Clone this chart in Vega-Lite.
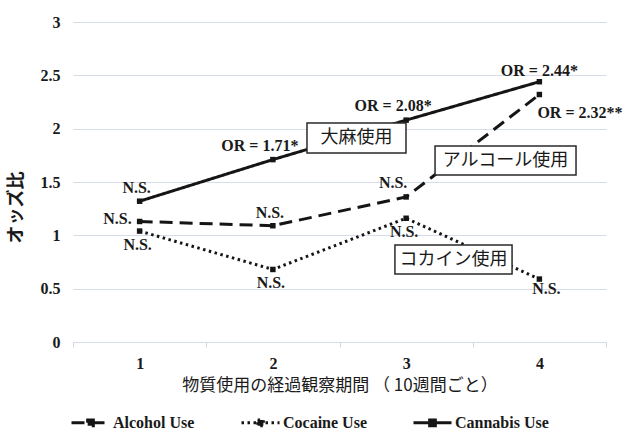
{
  "$schema": "https://vega.github.io/schema/vega-lite/v6.json",
  "width": 533,
  "height": 320,
  "autosize": {"type": "none"},
  "padding": {"left": 73, "top": 22, "right": 22, "bottom": 90},
  "background": "white",
  "config": {
    "view": {"stroke": null},
    "axis": {"labelColor": "#1a1a1a", "titleColor": "#1a1a1a"}
  },
  "datasets": {
    "odds": [
      {"period": 1, "series": "Alcohol Use", "or": 1.13, "label": "N.S."},
      {"period": 2, "series": "Alcohol Use", "or": 1.09, "label": "N.S."},
      {"period": 3, "series": "Alcohol Use", "or": 1.36, "label": "N.S."},
      {"period": 4, "series": "Alcohol Use", "or": 2.32, "label": "OR = 2.32**"},
      {"period": 1, "series": "Cocaine Use", "or": 1.04, "label": "N.S."},
      {"period": 2, "series": "Cocaine Use", "or": 0.68, "label": "N.S."},
      {"period": 3, "series": "Cocaine Use", "or": 1.16, "label": "N.S."},
      {"period": 4, "series": "Cocaine Use", "or": 0.59, "label": "N.S."},
      {"period": 1, "series": "Cannabis Use", "or": 1.32, "label": "N.S."},
      {"period": 2, "series": "Cannabis Use", "or": 1.71, "label": "OR = 1.71*"},
      {"period": 3, "series": "Cannabis Use", "or": 2.08, "label": "OR = 2.08*"},
      {"period": 4, "series": "Cannabis Use", "or": 2.44, "label": "OR = 2.44*"}
    ],
    "tags": [
      {"name": "大麻使用"},
      {"name": "アルコール使用"},
      {"name": "コカイン使用"}
    ]
  },
  "layer": [
    {
      "data": {"name": "odds"},
      "encoding": {
        "x": {
          "field": "period",
          "type": "quantitative",
          "scale": {"domain": [0.5, 4.5], "nice": false, "zero": false},
          "axis": {
            "title": "物質使用の経過観察期間 （ 10週間ごと）",
            "titleFont": "Noto Sans CJK JP",
            "titleFontSize": 17,
            "titleFontWeight": "normal",
            "titlePadding": 6,
            "values": [0.5, 1, 1.5, 2, 2.5, 3, 3.5, 4, 4.5],
            "labelExpr": "datum.value % 1 === 0 ? format(datum.value, 'd') : ''",
            "labelFont": "Liberation Serif",
            "labelFontWeight": "bold",
            "labelFontSize": 16,
            "labelPadding": 8,
            "labelOverlap": false,
            "labelFlush": false,
            "domain": false,
            "grid": false,
            "ticks": true,
            "tickSize": 5,
            "tickColor": "#cfd5e2",
            "tickOpacity": {"condition": {"test": "datum.value % 1 === 0", "value": 0}, "value": 1}
          }
        },
        "y": {
          "field": "or",
          "type": "quantitative",
          "scale": {"domain": [0, 3], "nice": false},
          "axis": {
            "title": "オッズ比",
            "titleFont": "Noto Sans CJK JP",
            "titleFontSize": 18,
            "titleFontWeight": "bold",
            "titlePadding": 15,
            "titleY": 185,
            "values": [0, 0.5, 1, 1.5, 2, 2.5, 3],
            "format": ".1~f",
            "labelFont": "Liberation Serif",
            "labelFontWeight": "bold",
            "labelFontSize": 16,
            "labelPadding": 13,
            "domain": false,
            "ticks": false,
            "grid": true,
            "gridColor": "#d6dce8",
            "gridWidth": 1
          }
        }
      },
      "layer": [
        {
          "mark": {"type": "line", "color": "#151515", "strokeWidth": 3},
          "encoding": {
            "strokeDash": {
              "field": "series",
              "type": "nominal",
              "scale": {
                "domain": ["Alcohol Use", "Cocaine Use", "Cannabis Use"],
                "range": [[13, 7], [2.5, 3.5], [1, 0]]
              },
              "legend": {
                "title": null,
                "orient": "none",
                "legendX": -3,
                "legendY": 380,
                "direction": "horizontal",
                "columnPadding": 40,
                "labelOffset": 2,
                "labelFont": "Liberation Serif",
                "labelFontWeight": "bold",
                "labelFontSize": 16,
                "labelColor": "#1a1a1a",
                "symbolType": "M-1,0H1M-0.15,-0.15H0.15V0.15H-0.15Z",
                "symbolSize": 1444,
                "symbolStrokeWidth": 3,
                "symbolStrokeColor": "#151515",
                "symbolFillColor": "#151515",
                "encode": {
                  "symbols": {
                    "update": {
                      "fill": {"value": "#151515"},
                      "stroke": {"value": "#151515"}
                    }
                  }
                }
              }
            }
          }
        },
        {
          "mark": {"type": "point", "shape": "square", "filled": true, "size": 30, "color": "#151515", "opacity": 1}
        },
        {
          "transform": [{"filter": "(datum.series === 'Cannabis Use' && datum.period === 1) || (datum.series === 'Alcohol Use' && datum.period === 2)"}],
          "mark": {"type": "text", "font": "Liberation Serif", "fontWeight": "bold", "fontSize": 16, "color": "#1a1a1a", "dx": -3, "dy": -13},
          "encoding": {"text": {"field": "label"}}
        },
        {
          "transform": [{"filter": "(datum.series === 'Cannabis Use' && (datum.period === 2 || datum.period === 3)) || (datum.series === 'Alcohol Use' && datum.period === 3)"}],
          "mark": {"type": "text", "font": "Liberation Serif", "fontWeight": "bold", "fontSize": 16, "color": "#1a1a1a", "dx": -13, "dy": -14},
          "encoding": {"text": {"field": "label"}}
        },
        {
          "transform": [{"filter": "datum.series === 'Cannabis Use' && datum.period === 4"}],
          "mark": {"type": "text", "font": "Liberation Serif", "fontWeight": "bold", "fontSize": 16, "color": "#1a1a1a", "dx": 0, "dy": -11},
          "encoding": {"text": {"field": "label"}}
        },
        {
          "transform": [{"filter": "datum.series === 'Alcohol Use' && datum.period === 1"}],
          "mark": {"type": "text", "font": "Liberation Serif", "fontWeight": "bold", "fontSize": 16, "color": "#1a1a1a", "align": "right", "dx": -8, "dy": -2},
          "encoding": {"text": {"field": "label"}}
        },
        {
          "transform": [{"filter": "datum.series === 'Alcohol Use' && datum.period === 4"}],
          "mark": {"type": "text", "font": "Liberation Serif", "fontWeight": "bold", "fontSize": 16, "color": "#1a1a1a", "align": "left", "dx": -2, "dy": 18},
          "encoding": {"text": {"field": "label"}}
        },
        {
          "transform": [{"filter": "datum.series === 'Cocaine Use' && datum.period < 4"}],
          "mark": {"type": "text", "font": "Liberation Serif", "fontWeight": "bold", "fontSize": 16, "color": "#1a1a1a", "dx": -2, "dy": 14},
          "encoding": {"text": {"field": "label"}}
        },
        {
          "transform": [{"filter": "datum.series === 'Cocaine Use' && datum.period === 4"}],
          "mark": {"type": "text", "font": "Liberation Serif", "fontWeight": "bold", "fontSize": 16, "color": "#1a1a1a", "dx": 7, "dy": 10},
          "encoding": {"text": {"field": "label"}}
        }
      ]
    },
    {
      "data": {"name": "tags"},
      "transform": [{"filter": "datum.name === '大麻使用'"}],
      "layer": [
        {
          "mark": {"type": "rect", "fill": "white", "stroke": "#2a2a2a", "strokeWidth": 1.5},
          "encoding": {
            "x": {"datum": 2.256, "type": "quantitative"},
            "x2": {"datum": 2.999},
            "y": {"datum": 1.772, "type": "quantitative"},
            "y2": {"datum": 2.053}
          }
        },
        {
          "mark": {"type": "text", "font": "Noto Sans CJK JP", "fontSize": 18, "color": "#1a1a1a"},
          "encoding": {
            "x": {"datum": 2.628, "type": "quantitative"},
            "y": {"datum": 1.912, "type": "quantitative"},
            "text": {"field": "name", "type": "nominal"}
          }
        }
      ]
    },
    {
      "data": {"name": "tags"},
      "transform": [{"filter": "datum.name === 'アルコール使用'"}],
      "layer": [
        {
          "mark": {"type": "rect", "fill": "white", "stroke": "#2a2a2a", "strokeWidth": 1.5},
          "encoding": {
            "x": {"datum": 3.217, "type": "quantitative"},
            "x2": {"datum": 4.275},
            "y": {"datum": 1.566, "type": "quantitative"},
            "y2": {"datum": 1.837}
          }
        },
        {
          "mark": {"type": "text", "font": "Noto Sans CJK JP", "fontSize": 18, "color": "#1a1a1a"},
          "encoding": {
            "x": {"datum": 3.746, "type": "quantitative"},
            "y": {"datum": 1.70, "type": "quantitative"},
            "text": {"field": "name", "type": "nominal"}
          }
        }
      ]
    },
    {
      "data": {"name": "tags"},
      "transform": [{"filter": "datum.name === 'コカイン使用'"}],
      "layer": [
        {
          "mark": {"type": "rect", "fill": "white", "stroke": "#2a2a2a", "strokeWidth": 1.5},
          "encoding": {
            "x": {"datum": 2.916, "type": "quantitative"},
            "x2": {"datum": 3.795},
            "y": {"datum": 0.637, "type": "quantitative"},
            "y2": {"datum": 0.909}
          }
        },
        {
          "mark": {"type": "text", "font": "Noto Sans CJK JP", "fontSize": 18, "color": "#1a1a1a"},
          "encoding": {
            "x": {"datum": 3.355, "type": "quantitative"},
            "y": {"datum": 0.773, "type": "quantitative"},
            "text": {"field": "name", "type": "nominal"}
          }
        }
      ]
    }
  ]
}
